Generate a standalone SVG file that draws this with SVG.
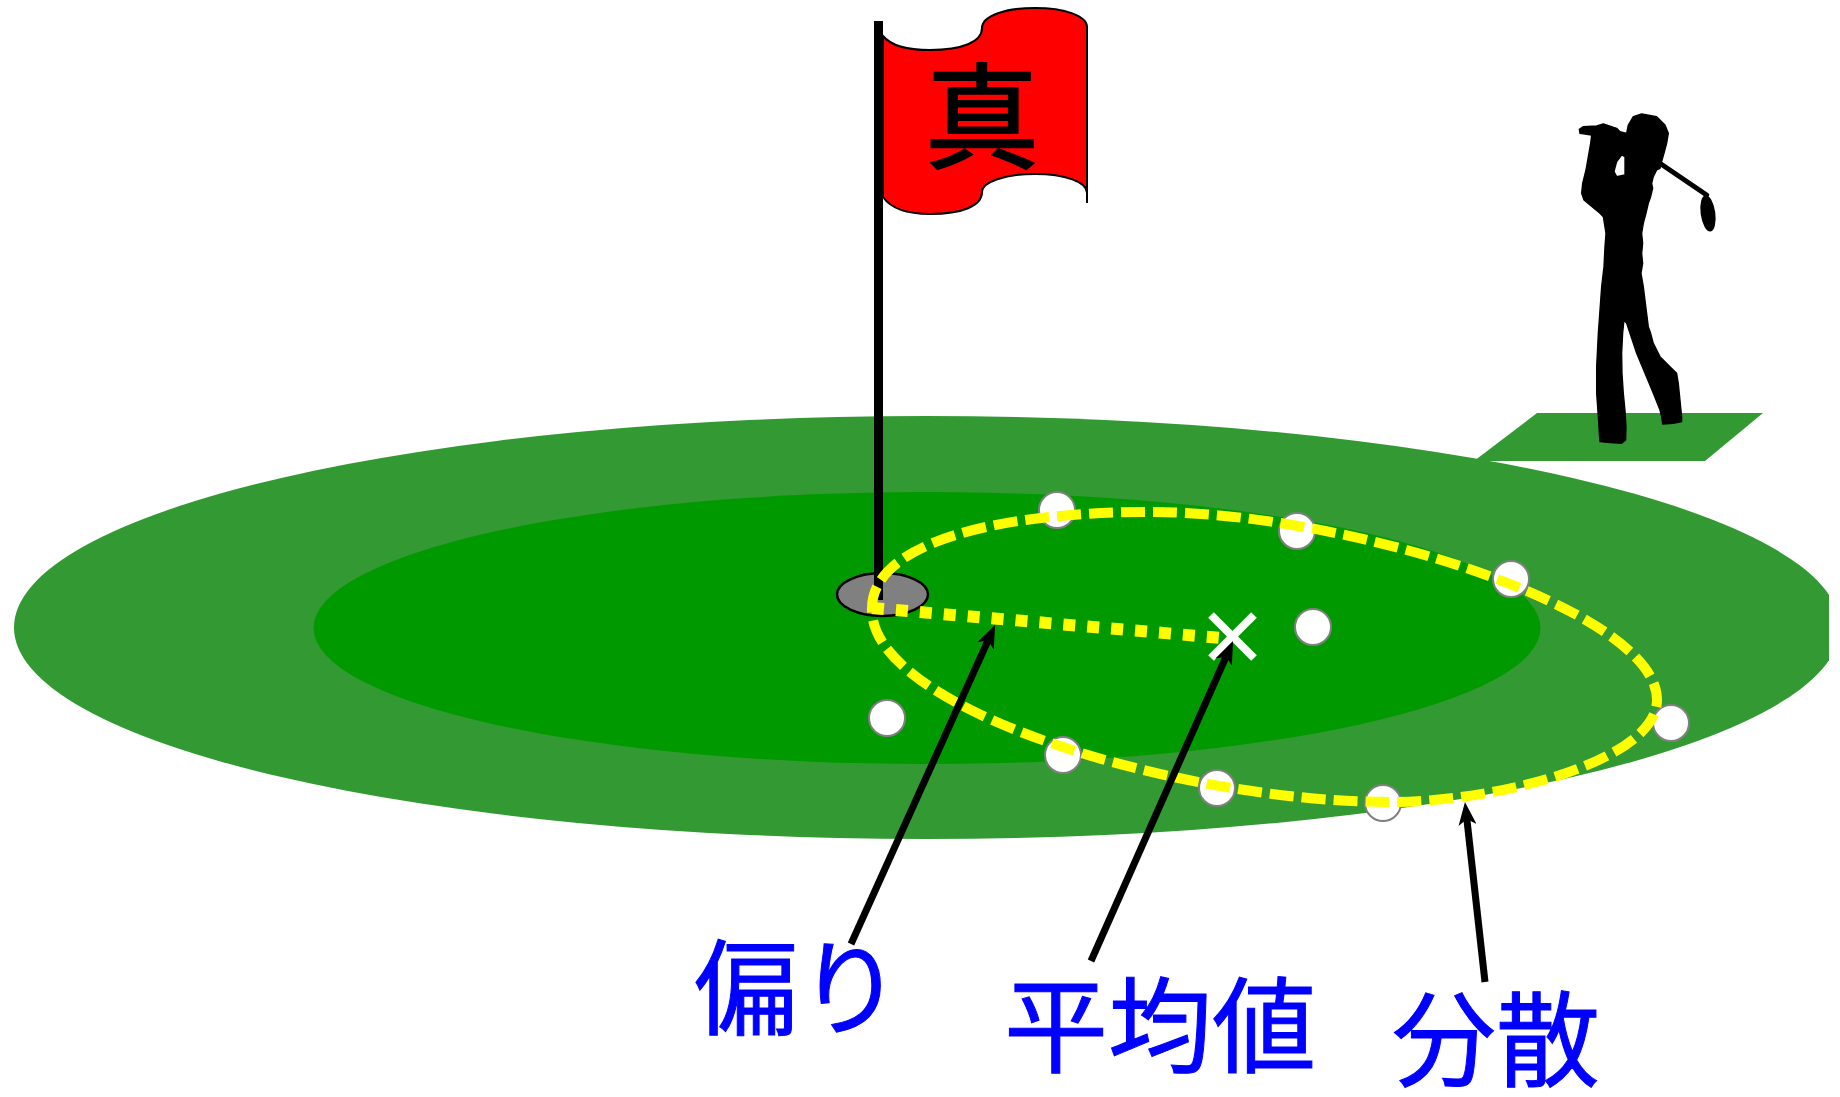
<svg xmlns="http://www.w3.org/2000/svg" width="1840" height="1097" viewBox="0 0 1840 1097">
  <style>
    .rough { fill: #339933; }
    .green { fill: #009900; }
    .ball { fill: #ffffff; stroke: #808080; stroke-width: 2; }
    .pointer { stroke: #000000; stroke-width: 7; fill: none; marker-end: url(#head); }
    .label { font-family: "Noto Sans CJK JP", "Noto Sans CJK SC", sans-serif; font-size: 104px; fill: #0000ff; stroke: #0000ff; stroke-width: 1; }
  </style>
  <defs>
    <clipPath id="frame">
      <rect x="0" y="0" width="1829" height="1097"/>
    </clipPath>
    <marker id="head" markerUnits="userSpaceOnUse" markerWidth="24" markerHeight="18" refX="10" refY="9" orient="auto" viewBox="0 0 24 18">
      <path d="M23,9 L0,0 L6,9 L0,18 Z" fill="#000000"/>
    </marker>
  </defs>

  <rect width="1840" height="1097" fill="#ffffff"/>

  <!-- fairway and green -->
  <g id="fairway">
    <ellipse class="rough" cx="927" cy="627.5" rx="913" ry="211.5" clip-path="url(#frame)"/>
  </g>
  <g id="tee">
    <polygon class="rough" points="1537,413 1763,413 1705,461 1474,461"/>
  </g>
  <g id="green">
    <ellipse class="green" cx="927" cy="628" rx="613.5" ry="136"/>
  </g>

  <!-- golfer silhouette -->
  <g id="golfer" transform="translate(1460,100) scale(0.3333)">
    <path fill="#000000" stroke="#000000" stroke-width="4" stroke-linejoin="round" fill-rule="evenodd"
      d="M358,88 L370,80 L410,78 L430,72 L470,85 L480,95 L500,100 L505,75 L520,50 L545,42 L590,50 L615,75 L625,100 L620,130 L612,160 L605,185 L600,205 L590,210 L580,230 L575,250 L578,265 L572,290 L565,310 L558,340 L550,370 L545,400 L548,430 L545,460 L548,490 L543,520 L550,560 L555,600 L560,640 L565,680 L572,700 L580,730 L600,770 L630,800 L650,820 L655,850 L660,900 L665,950 L665,965 L640,970 L608,972 L605,950 L600,930 L580,880 L555,820 L530,760 L510,700 L500,670 L492,660 L488,700 L485,760 L486,820 L490,880 L495,930 L498,980 L497,1020 L485,1030 L450,1028 L420,1025 L418,1000 L415,950 L410,880 L410,800 L415,700 L420,630 L425,560 L432,500 L435,440 L438,400 L430,350 L420,340 L390,315 L372,300 L365,280 L368,250 L378,210 L385,170 L392,130 L395,105 L380,103 L360,100 Z
         M462,215 L470,185 L485,165 L495,170 L495,225 L470,230 Z"/>
    <line x1="603" y1="192" x2="740" y2="285" stroke="#000000" stroke-width="15" stroke-linecap="round"/>
    <ellipse cx="744" cy="340" rx="22" ry="55" transform="rotate(-8 744 340)" fill="#000000"/>
  </g>

  <!-- cup and flag -->
  <g id="cup">
    <ellipse cx="882.5" cy="594.5" rx="45.5" ry="21.5" fill="#808080" stroke="#000000" stroke-width="2.5"/>
  </g>
  <g id="flag">
    <path d="M883,36 C892,47 910,50 930,50 C962,50 982,42 982,28 C982,16 1005,8 1035,8 C1065,8 1087,16 1087,27 L1087,203 L1087,193 C1087,182 1065,174 1035,174 C1005,174 982,182 982,192 C982,206 962,214 930,214 C910,214 892,210 883,197 Z"
      fill="#ff0000" stroke="#000000" stroke-width="2"/>
    <text x="982" y="159" text-anchor="middle" font-family="Noto Sans CJK JP, Noto Sans CJK SC, sans-serif" font-size="114" fill="#000000" stroke="#000000" stroke-width="2">真</text>
    <line x1="878.5" y1="21" x2="878.5" y2="600" stroke="#000000" stroke-width="9"/>
  </g>

  <!-- balls -->
  <g id="balls">
    <circle class="ball" cx="1057" cy="510" r="18"/>
    <circle class="ball" cx="1297" cy="531" r="18"/>
    <circle class="ball" cx="1511" cy="579" r="18"/>
    <circle class="ball" cx="1313" cy="627" r="18"/>
    <circle class="ball" cx="887" cy="718" r="18"/>
    <circle class="ball" cx="1063" cy="755" r="18"/>
    <circle class="ball" cx="1217" cy="788" r="18"/>
    <circle class="ball" cx="1383" cy="803" r="18"/>
    <circle class="ball" cx="1671" cy="723" r="18"/>
  </g>

  <!-- spread outline and offset line -->
  <g id="spread">
    <path d="M872,610 C870,545 990,512 1150,512 C1350,512 1657,610 1657,700 C1657,760 1500,802 1390,802 C1180,802 872,710 872,610 Z"
      fill="none" stroke="#ffff00" stroke-width="10" stroke-dasharray="24 8"/>
  </g>
  <g id="offset">
    <line x1="872" y1="608" x2="1222" y2="638" stroke="#ffff00" stroke-width="12" stroke-dasharray="12 12"/>
  </g>

  <!-- mean position -->
  <g id="mean">
    <line x1="1211" y1="615" x2="1254" y2="658" stroke="#ffffff" stroke-width="8"/>
    <line x1="1254" y1="615" x2="1211" y2="658" stroke="#ffffff" stroke-width="8"/>
  </g>

  <!-- leader arrows -->
  <g id="connectors">
    <line class="pointer" x1="851" y1="944" x2="989.7" y2="636.8"/>
    <line class="pointer" x1="1091" y1="961" x2="1227.7" y2="653"/>
    <line class="pointer" x1="1485" y1="982" x2="1466.4" y2="815"/>
  </g>

  <!-- labels -->
  <g id="label-bias">
    <text class="label" x="694" y="1027">偏り</text>
  </g>
  <g id="label-mean">
    <text class="label" x="1004" y="1065">平均値</text>
  </g>
  <g id="label-variance">
    <text class="label" x="1392" y="1079">分散</text>
  </g>
</svg>
